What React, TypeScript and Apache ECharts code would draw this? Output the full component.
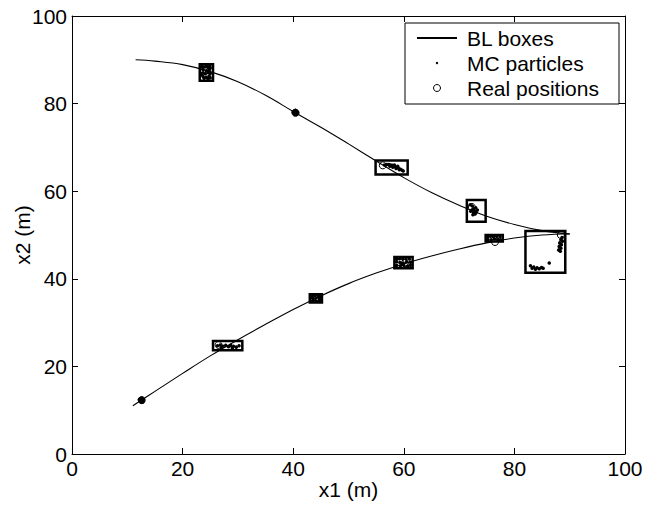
import React, { useEffect, useRef } from "react";
import * as echarts from "echarts";

// Trajectory 1 (upper curve)
const track1: [number, number][] = [
  [11.5, 90], [15, 89.7], [20, 88.9], [25, 87.3], [30, 85.0], [35, 81.9], [40, 78.2],
  [45, 74.6], [50, 70.8], [55, 66.9], [60, 63.1], [65, 59.7], [70, 56.8], [75, 54.3],
  [80, 52.4], [85, 51.0], [90, 50.2],
];
// Trajectory 2 (lower curve)
const track2: [number, number][] = [
  [11, 11], [15, 14.3], [20, 18.4], [25, 22.4], [30, 26.1], [35, 29.6], [40, 33],
  [45, 36.1], [50, 38.9], [55, 41.3], [60, 43.4], [65, 45.2], [70, 46.8], [75, 48.2],
  [80, 49.3], [85, 50], [90, 50.3],
];
// BL boxes [xmin, ymin, xmax, ymax]
const boxes: [number, number, number, number][] = [
  [23.1, 85.2, 25.5, 89],
  [54.9, 63.8, 60.7, 67],
  [71.4, 53, 74.8, 58],
  [82, 41.4, 89.2, 50.9],
  [25.5, 23.7, 30.8, 25.8],
  [43, 34.6, 45.2, 36.5],
  [58.3, 42.4, 61.6, 45],
  [74.8, 48.5, 77.9, 50],
];
// MC particles
const particles: [number, number][] = [
  // box A
  [23.6, 88.3], [24.1, 88.4], [24.6, 88.2], [24.9, 88.5], [23.7, 87.7], [24.3, 87.5], [24.8, 87.8],
  [23.6, 87.0], [24.1, 86.8], [24.6, 87.1], [25.0, 86.9], [23.7, 86.2], [24.3, 86.0], [24.8, 86.3],
  [23.9, 85.8], [24.6, 85.7], [23.5, 88.7], [24.4, 88.7], [25.0, 88.1], [23.5, 86.6], [25.0, 85.9],
  // dot B
  [40.2, 78.3], [40.6, 78.3], [40.1, 77.9], [40.5, 77.9], [40.8, 77.8], [40.3, 77.5], [40.6, 77.5],
  [40.0, 78.1], [40.4, 78.5], [40.8, 78.1], [40.2, 77.7], [40.7, 77.6],
  // box C
  [56.5, 66.0], [56.9, 66.1], [57.3, 66.1], [57.6, 66.0], [57.9, 65.9], [58.2, 65.8], [58.5, 65.6],
  [58.8, 65.4], [59.1, 65.2], [59.4, 65.0], [59.7, 64.8], [59.9, 64.6], [57.5, 65.7], [58.0, 65.5],
  [58.6, 65.2], [59.2, 64.9], [58.3, 66.0], [58.9, 65.7],
  // box D
  [72.0, 56.9], [72.4, 56.6], [72.6, 56.0], [72.3, 55.7], [72.8, 55.5], [73.1, 55.2], [72.6, 55.1],
  [72.9, 54.8], [73.3, 55.7], [72.1, 55.4], [73.0, 56.2], [72.5, 54.6],
  // box E
  [88.6, 49.4], [88.4, 48.9], [88.7, 48.6], [88.2, 48.2], [88.5, 47.8], [88.1, 47.4], [88.4, 47.0],
  [88.0, 46.6], [88.3, 46.3], [82.9, 43.0], [83.2, 42.4], [83.5, 42.7], [83.8, 42.2], [84.1, 42.5],
  [84.5, 42.3], [84.9, 42.6], [85.2, 42.4], [86.3, 43.6],
  // dot F
  [12.4, 12.6], [12.8, 12.6], [12.3, 12.2], [12.7, 12.2], [12.9, 12.0], [12.5, 11.9],
  [12.2, 12.5], [12.6, 12.8], [12.9, 12.4], [12.4, 12.0], [12.7, 11.8],
  // box G
  [26.3, 24.7], [26.8, 24.9], [27.3, 24.6], [27.8, 24.8], [28.3, 24.5], [28.7, 24.8], [29.2, 24.6],
  [29.7, 24.4], [30.2, 24.7], [27.0, 24.3], [29.0, 24.2],
  // box H
  [43.4, 36.1], [43.9, 36.2], [44.5, 36.1], [44.9, 36.0], [43.5, 35.6], [44.1, 35.6], [44.7, 35.5],
  [43.5, 35.0], [44.0, 35.0], [44.6, 34.9], [44.9, 35.2],
  // box I
  [58.7, 44.5], [59.2, 44.6], [59.8, 44.5], [60.4, 44.6], [61.0, 44.5], [58.7, 43.9], [59.3, 43.7],
  [60.5, 43.9], [61.2, 43.8], [58.7, 43.1], [59.4, 43.0], [60.0, 43.1], [60.7, 42.9], [61.2, 43.1],
  [59.9, 43.6],
  // box J
  [75.2, 49.6], [75.7, 49.7], [76.2, 49.6], [76.8, 49.7], [77.4, 49.6], [75.2, 49.0], [75.8, 48.9],
  [76.4, 49.1], [77.0, 49.0], [77.5, 48.9],
];
// Real positions
const realPositions: [number, number][] = [
  [24.4, 87.6], [40.4, 77.9], [56.2, 65.9], [72.3, 56.4], [88.4, 50.0],
  [12.6, 12.3], [26.5, 24.9], [44.1, 35.6], [60.2, 43.6], [76.5, 48.4],
];

const FONT = "'Liberation Sans', Arial, Helvetica, sans-serif";

export default function App() {
  const ref = useRef<HTMLDivElement>(null);
  useEffect(() => {
    if (!ref.current) return;
    const chart = echarts.init(ref.current, undefined, { renderer: "svg" });
    const axisCommon = {
      type: "value" as const,
      min: 0,
      max: 100,
      interval: 20,
      splitLine: { show: false },
      nameMoveOverlap: false,
      axisLine: { show: true, onZero: false, lineStyle: { color: "#000", width: 1 } },
      axisTick: { show: true, inside: true, length: 6, lineStyle: { color: "#000" } },
    };
    chart.setOption({
      animation: false,
      backgroundColor: "#fff",
      textStyle: { fontFamily: FONT },
      grid: { left: 72, right: 21, top: 16, bottom: 52, containLabel: false, outerBoundsMode: "none" },
      xAxis: [
        {
          ...axisCommon,
          position: "bottom",
          name: "x1 (m)",
          nameLocation: "middle",
          nameGap: 25,
          nameTextStyle: { fontSize: 21, color: "#000", fontFamily: FONT },
          axisLabel: { fontSize: 21, color: "#000", margin: 4, fontFamily: FONT },
        },
        { ...axisCommon, position: "top", axisLabel: { show: false } },
      ],
      yAxis: [
        {
          ...axisCommon,
          position: "left",
          name: "x2 (m)",
          nameLocation: "middle",
          nameGap: 39,
          nameTextStyle: { fontSize: 21, color: "#000", fontFamily: FONT },
          axisLabel: { fontSize: 21, color: "#000", margin: 5, fontFamily: FONT },
        },
        { ...axisCommon, position: "right", axisLabel: { show: false } },
      ],
      series: [
        {
          type: "line",
          data: track1,
          smooth: 0.4,
          showSymbol: false,
          lineStyle: { color: "#000", width: 1.1 },
          z: 2,
        },
        {
          type: "line",
          data: track2,
          smooth: 0.4,
          showSymbol: false,
          lineStyle: { color: "#000", width: 1.1 },
          z: 2,
        },
        {
          type: "scatter",
          data: particles,
          symbol: "circle",
          symbolSize: 3.5,
          itemStyle: { color: "#000", opacity: 1 },
          z: 3,
        },
        {
          type: "scatter",
          data: realPositions,
          symbol: "circle",
          symbolSize: 7,
          itemStyle: { color: "none", borderColor: "#000", borderWidth: 1, opacity: 1 },
          z: 4,
        },
        {
          type: "custom",
          data: boxes,
          encode: { x: [0, 2], y: [1, 3] },
          z: 5,
          renderItem: (_params: any, api: any) => {
            const p1 = api.coord([api.value(0), api.value(3)]);
            const p2 = api.coord([api.value(2), api.value(1)]);
            return {
              type: "rect",
              shape: { x: p1[0], y: p1[1], width: p2[0] - p1[0], height: p2[1] - p1[1] },
              style: { fill: "none", stroke: "#000", lineWidth: 2.5 },
            };
          },
        },
      ],
      graphic: [
        {
          type: "rect",
          shape: { x: 405, y: 23, width: 214, height: 81 },
          style: { fill: "#fff", stroke: "#000", lineWidth: 1 },
          z: 10,
        },
        {
          type: "line",
          shape: { x1: 417, y1: 38, x2: 457, y2: 38 },
          style: { stroke: "#000", lineWidth: 2 },
          z: 11,
        },
        {
          type: "circle",
          shape: { cx: 437, cy: 63, r: 1.2 },
          style: { fill: "#000" },
          z: 11,
        },
        {
          type: "circle",
          shape: { cx: 437, cy: 88, r: 3.5 },
          style: { fill: "none", stroke: "#000", lineWidth: 1 },
          z: 11,
        },
        {
          type: "text",
          x: 467,
          y: 38,
          style: { text: "BL boxes", fontSize: 21, fontFamily: FONT, fill: "#000", verticalAlign: "middle" },
          z: 11,
        },
        {
          type: "text",
          x: 467,
          y: 63,
          style: { text: "MC particles", fontSize: 21, fontFamily: FONT, fill: "#000", verticalAlign: "middle" },
          z: 11,
        },
        {
          type: "text",
          x: 467,
          y: 88,
          style: { text: "Real positions", fontSize: 21, fontFamily: FONT, fill: "#000", verticalAlign: "middle" },
          z: 11,
        },
      ],
    });
    return () => chart.dispose();
  }, []);
  return <div ref={ref} style={{ width: 646, height: 506, position: "absolute", left: 0, top: 0 }} />;
}
